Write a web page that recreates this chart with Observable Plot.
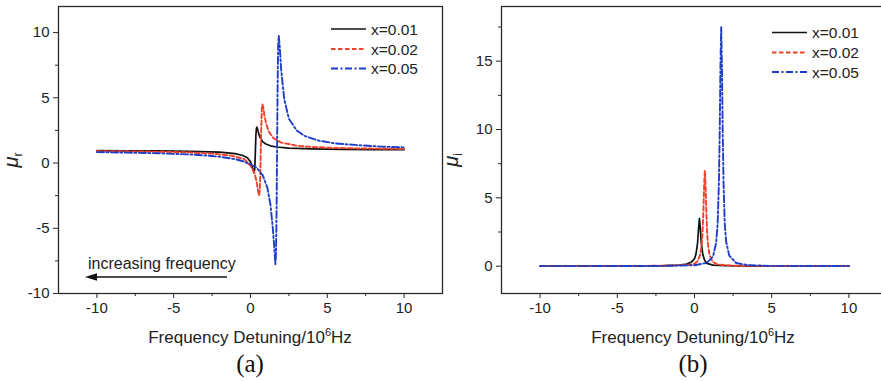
<!DOCTYPE html>
<html><head><meta charset="utf-8">
<script src="https://cdn.jsdelivr.net/npm/d3@7"></script>
<script src="https://cdn.jsdelivr.net/npm/@observablehq/plot@0.6"></script>
<style>
html,body{margin:0;padding:0;background:#fff;}
#root{position:relative;width:881px;height:381px;overflow:hidden;font-family:"Liberation Sans",Arial,sans-serif;}
#root > svg{position:absolute;top:0;}
</style></head><body><div id="root"></div>
<script>
// ---- data ----
const seriesNames = ["x=0.01", "x=0.02", "x=0.05"];
const xMajorTicks = [-10, -5, 0, 5, 10];
const xMinorTicks = [-7.5, -2.5, 2.5, 7.5];
const yMajorTicksA = [-10, -5, 0, 5, 10];
const yMinorTicksA = [-7.5, -2.5, 2.5, 7.5];
const yMajorTicksB = [0, 5, 10, 15];
const yMinorTicksB = [2.5, 7.5, 12.5, 17.5];

// panel (a): real part mu_r
const realX001 = [-10,-8,-6,-4,-2,-1,-0.5,-0.2,0,0.1,0.18,0.23,0.27,0.3,0.32,0.35,0.38,0.41,0.45,0.5,0.6,0.8,1.0,1.3,1.7,2.5,4,6,8,10];
const realY001 = [0.95,0.94,0.93,0.90,0.83,0.72,0.58,0.40,0.09,-0.23,-0.59,-0.75,-0.49,0.26,1.0,2.05,2.62,2.75,2.64,2.4,2.02,1.62,1.46,1.32,1.23,1.14,1.08,1.05,1.03,1.02];
const realX002 = [-10,-8,-6,-4,-2.5,-1.2,-0.4,0,0.25,0.4,0.5,0.56,0.6,0.64,0.67,0.7,0.74,0.78,0.82,0.9,1.0,1.2,1.5,2,3,4,5.5,7,8.5,10];
const realY002 = [0.91,0.90,0.87,0.82,0.72,0.56,0.29,-0.2,-0.72,-1.45,-2.19,-2.5,-2.17,-0.78,1.0,2.78,4.17,4.5,4.34,3.72,3.1,2.39,1.91,1.57,1.33,1.23,1.16,1.12,1.10,1.08];
const realX005 = [-10,-8,-6,-4,-3,-2,-1,-0.5,0,0.4,0.8,1.1,1.3,1.45,1.55,1.62,1.66,1.7,1.73,1.76,1.8,1.84,1.9,2.0,2.2,2.5,3.0,3.5,4.5,5.5,7,8.5,10];
const realY005 = [0.84,0.80,0.75,0.66,0.59,0.48,0.30,0.14,-0.11,-0.35,-0.95,-1.9,-3.2,-4.96,-6.5,-7.75,-6.93,-3.44,1.0,5.44,8.93,9.75,8.98,7.11,4.88,3.4,2.5,2.09,1.70,1.51,1.37,1.26,1.2];

// panel (b): imaginary part mu_i
const imagX001 = [-10,-5,-2,-1,-0.5,-0.2,0,0.1,0.2,0.26,0.32,0.38,0.44,0.54,0.65,0.8,1.2,2,4,10];
const imagY001 = [0,0.01,0.04,0.08,0.15,0.3,0.55,0.9,1.7,2.7,3.5,2.7,1.7,0.85,0.45,0.2,0.08,0.04,0.01,0];
const imagX002 = [-10,-5,-2,-1,-0.3,0,0.2,0.37,0.47,0.52,0.57,0.62,0.67,0.72,0.77,0.82,0.87,0.97,1.17,1.5,2.5,5,10];
const imagY002 = [0,0.01,0.03,0.06,0.1,0.18,0.36,0.83,1.62,2.45,3.83,5.8,7.0,5.8,3.83,2.45,1.62,0.83,0.32,0.12,0.04,0.01,0];
const imagX005 = [-10,-5,-2,0,0.8,1.2,1.4,1.5,1.58,1.63,1.68,1.73,1.78,1.83,1.88,1.96,2.05,2.25,2.7,3.5,5,10];
const imagY005 = [0,0.01,0.02,0.07,0.24,0.7,1.7,3.1,6.1,9.6,14.5,17.5,14.5,9.6,6.1,3.1,1.8,0.77,0.23,0.07,0.02,0.01];

// ---- styling ----
const styles = [
  {stroke: "#111111", strokeWidth: 1.7, dash: null},
  {stroke: "#f0412b", strokeWidth: 1.9, dash: "4.5,2.5"},
  {stroke: "#1e3ec8", strokeWidth: 1.9, dash: "7,2.5,2,2.5"}
];
const FONT = "Liberation Sans, Arial, sans-serif";
const fmt = d => String(d);

function rows(xs, ys) { return xs.map((x, i) => ({x, y: ys[i]})); }

function panel({width, marginLeft, marginRight, yDomain, yMajor, yMinor, sets}) {
  const lines = sets.map((s, i) => Plot.line(s, {
    x: "x", y: "y", stroke: styles[i].stroke, strokeWidth: styles[i].strokeWidth,
    strokeDasharray: styles[i].dash || undefined, curve: "linear", clip: true
  }));
  return Plot.plot({
    width, height: 381, marginLeft, marginRight, marginTop: 6, marginBottom: 88,
    x: {domain: [-12.5, 12.5], label: null},
    y: {domain: yDomain, label: null},
    style: {fontFamily: FONT, background: "transparent", overflow: "visible", color: "#222"},
    marks: [
      ...lines,
      Plot.frame({stroke: "#2a2a2a", strokeWidth: 1.3}),
      Plot.axisX(xMajorTicks, {tickSize: 5, tickPadding: 4, fontSize: 15, tickFormat: fmt, label: null, stroke: "#2a2a2a"}),
      Plot.axisX(xMinorTicks, {tickSize: 3, tickFormat: () => "", label: null, stroke: "#2a2a2a"}),
      Plot.axisY(yMajor, {tickSize: 5, tickPadding: 4, fontSize: 15, tickFormat: fmt, label: null, stroke: "#2a2a2a"}),
      Plot.axisY(yMinor, {tickSize: 3, tickFormat: () => "", label: null, stroke: "#2a2a2a"})
    ]
  });
}

const root = document.getElementById("root");

const a = panel({
  width: 443, marginLeft: 58, marginRight: 1, yDomain: [-10, 12],
  yMajor: yMajorTicksA, yMinor: yMinorTicksA,
  sets: [rows(realX001, realY001), rows(realX002, realY002), rows(realX005, realY005)]
});
a.style.left = "0px";
root.appendChild(a);

const b = panel({
  width: 447, marginLeft: 61, marginRight: 0, yDomain: [-2, 19],
  yMajor: yMajorTicksB, yMinor: yMinorTicksB,
  sets: [rows(imagX001, imagY001), rows(imagX002, imagY002), rows(imagX005, imagY005)]
});
b.style.left = "440px";
root.appendChild(b);

// ---- overlay: titles, legends, annotation ----
const NS = "http://www.w3.org/2000/svg";
const ov = document.createElementNS(NS, "svg");
ov.setAttribute("width", 881); ov.setAttribute("height", 381);
ov.style.left = "0px"; ov.style.pointerEvents = "none";
root.appendChild(ov);
function el(tag, attrs, parent = ov) {
  const e = document.createElementNS(NS, tag);
  for (const k in attrs) e.setAttribute(k, attrs[k]);
  parent.appendChild(e); return e;
}
function xTitle(cx) {
  const t = el("text", {x: cx, y: 343, "text-anchor": "middle", "font-family": FONT, "font-size": 17, fill: "#222"});
  t.appendChild(document.createTextNode("Frequency Detuning/10"));
  const s = el("tspan", {"font-size": 11, dy: -7}, t); s.textContent = "6";
  const h = el("tspan", {dy: 7}, t); h.textContent = "Hz";
}
xTitle(250); xTitle(693);
function letter(cx, txt) {
  const t = el("text", {x: cx, y: 372, "text-anchor": "middle", "font-family": "Liberation Serif, Times New Roman, serif", "font-size": 25, fill: "#111"});
  t.textContent = txt;
}
letter(250, "(a)"); letter(693, "(b)");
function yTitle(bx, sub) {
  const t = el("text", {transform: `translate(${bx},160) rotate(-90)`, "text-anchor": "middle", "font-family": FONT, "font-size": 20, fill: "#222"});
  const m = el("tspan", {"font-style": "italic"}, t); m.textContent = "\u03bc";
  const s = el("tspan", {"font-size": 12, dy: 4}, t); s.textContent = sub;
}
yTitle(18, "r"); yTitle(458, "i");
function legend(x0, ys) {
  seriesNames.forEach((name, i) => {
    el("line", {x1: x0, x2: x0 + 35, y1: ys[i], y2: ys[i], stroke: styles[i].stroke,
      "stroke-width": styles[i].strokeWidth, "stroke-dasharray": styles[i].dash || "none"});
    const t = el("text", {x: x0 + 40, y: ys[i] + 5.5, "font-family": FONT, "font-size": 15.5, fill: "#222"});
    t.textContent = name;
  });
}
legend(331, [29, 49, 68.5]);
legend(772, [32.5, 52.5, 72]);
// annotation arrow
const at = el("text", {x: 88, y: 268.5, "font-family": FONT, "font-size": 16, fill: "#222"});
at.textContent = "increasing frequency";
el("line", {x1: 95, x2: 227, y1: 277, y2: 277, stroke: "#111", "stroke-width": 1.6});
el("polygon", {points: "85,277 97,273.3 97,280.7", fill: "#111"});
</script></body></html>
